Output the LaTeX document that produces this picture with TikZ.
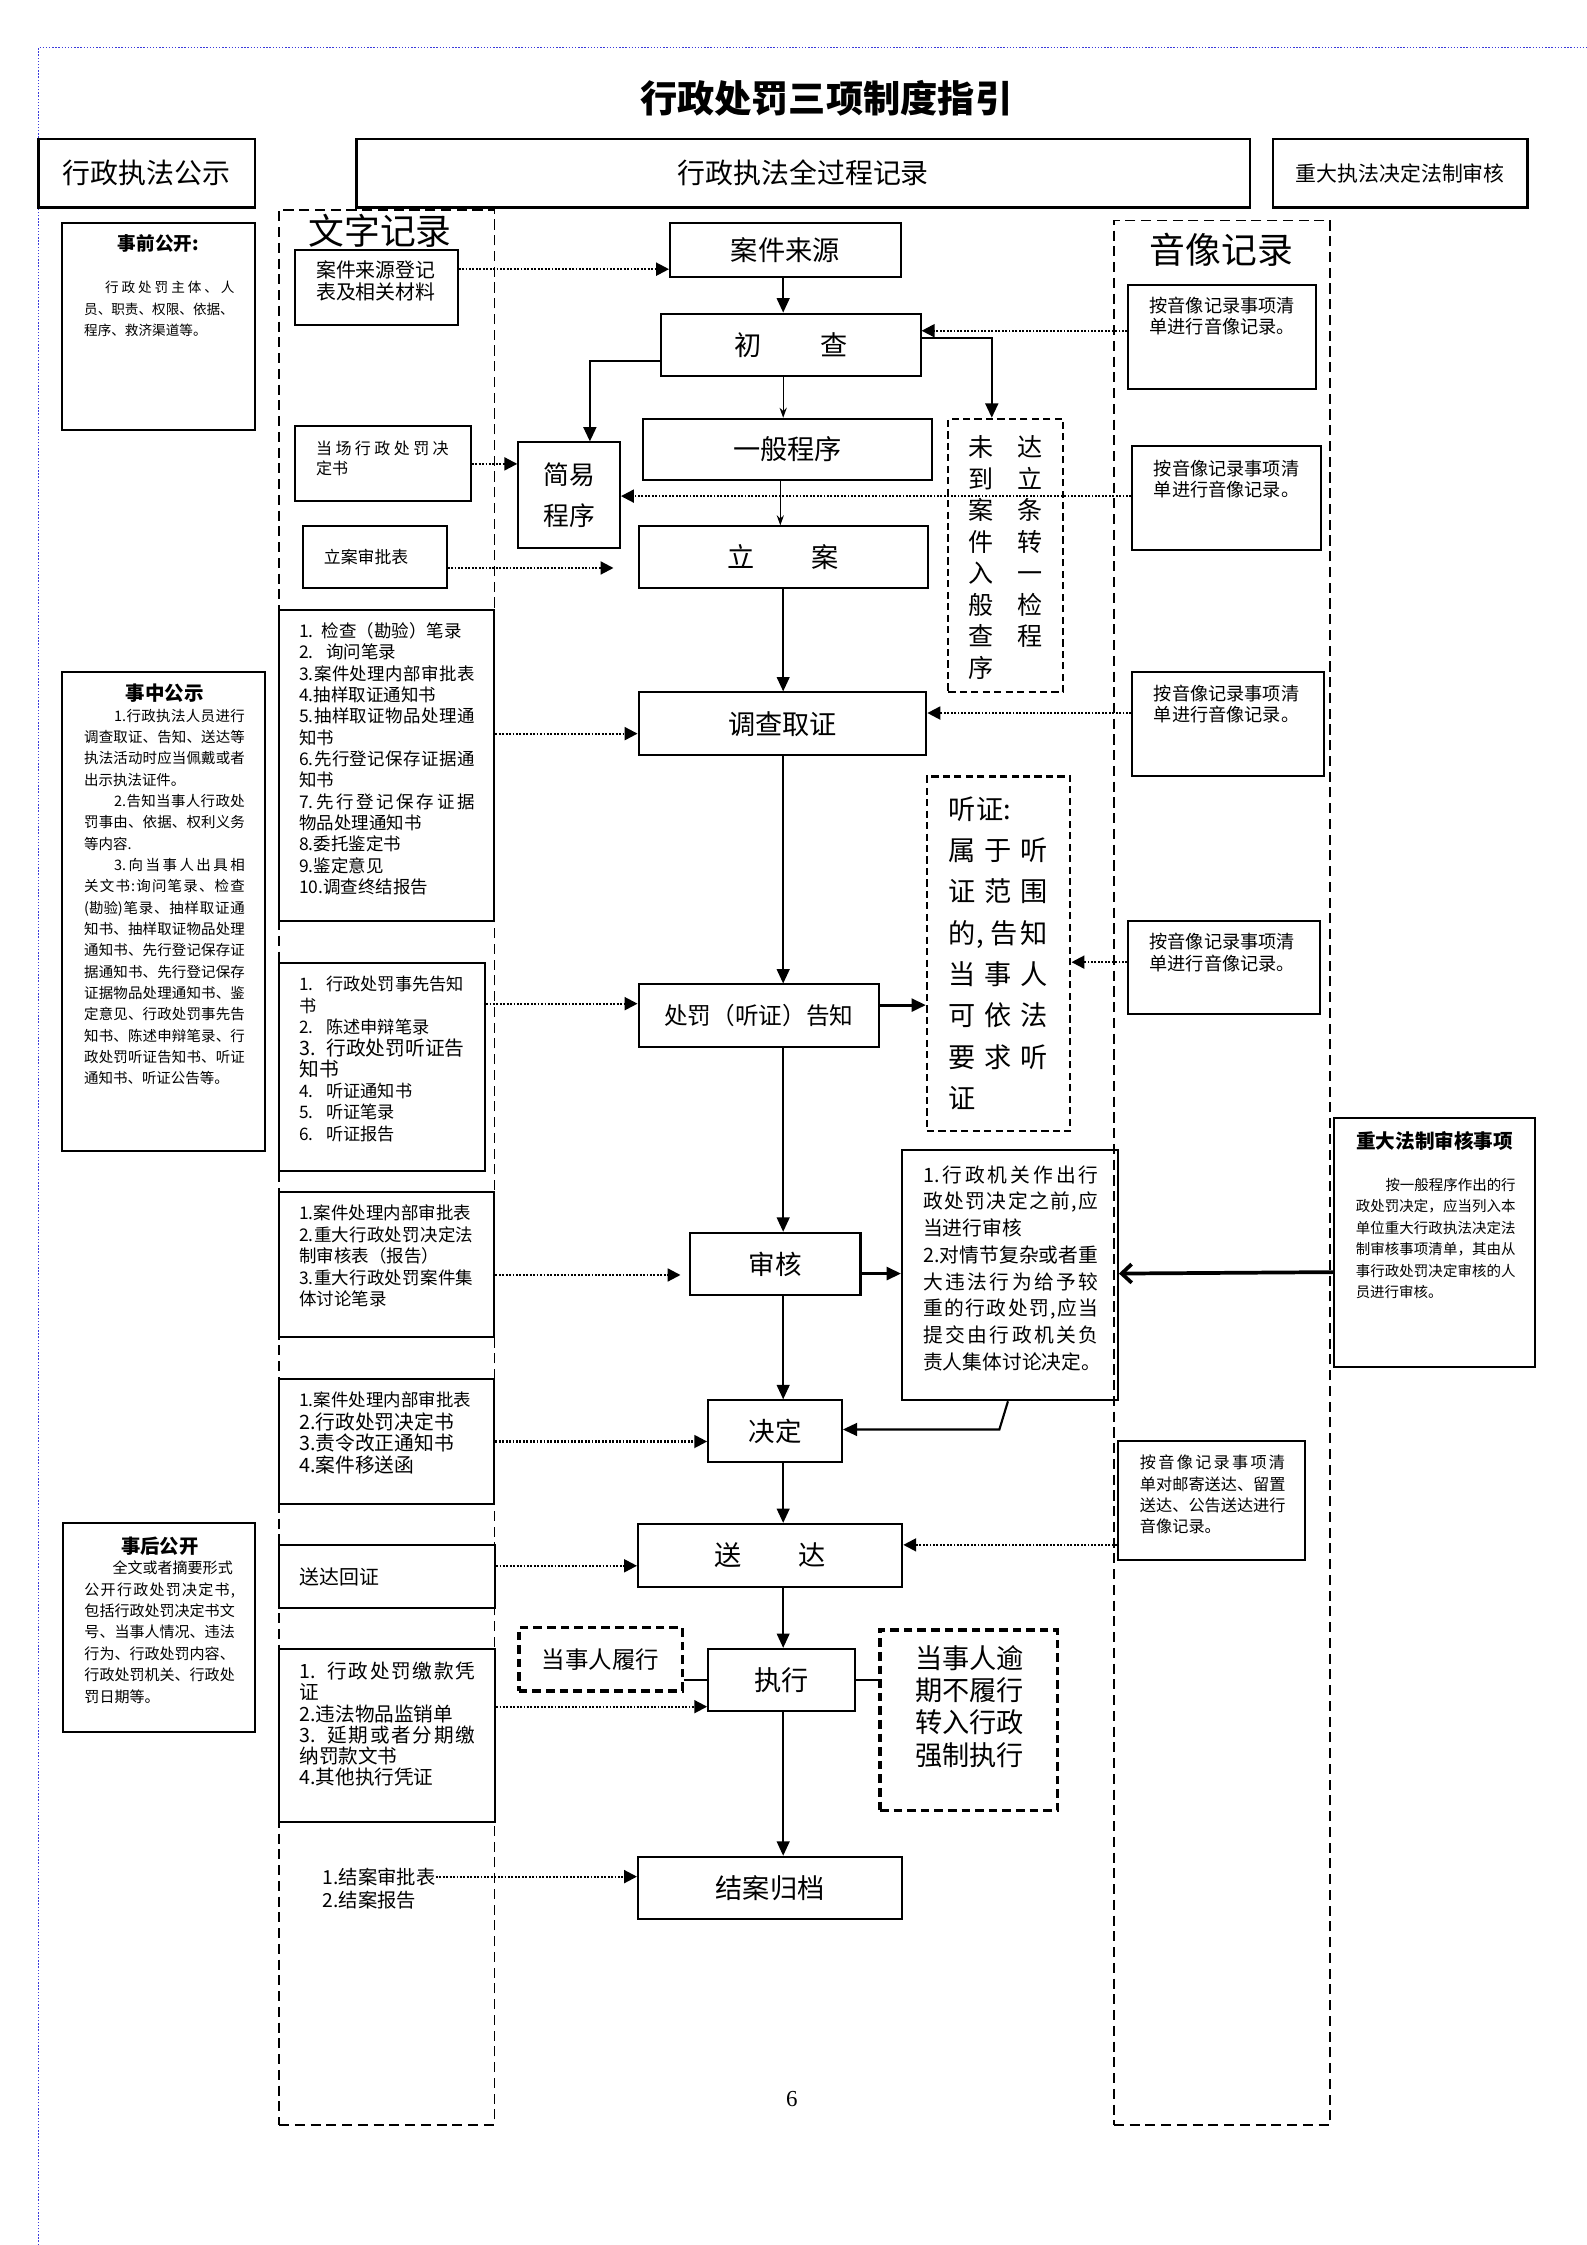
\documentclass[tikz,border=0pt]{standalone}
\usepackage{fontspec}
\setmainfont{Noto Sans CJK SC}
\newfontfamily\lserif{Liberation Serif}
\usetikzlibrary{arrows.meta}
\definecolor{frameblue}{RGB}{60,60,220}
\def\sprA#1{\ifx\relax#1\unskip\else#1\hfill\expandafter\sprA\fi}
\newcommand\spr[2]{\makebox[#1][s]{\sprA#2\relax}}
\newcommand\fsz[2]{\fontsize{#1}{#2}\selectfont}
\tikzset{
 bx/.style={draw, line width=1.4pt, inner sep=0pt, font=\fsz{19}{22}},
 hb/.style={draw, line width=1.7pt, inner sep=0pt},
 tx/.style={inner sep=0pt, anchor=north west, align=left},
 colbox/.style={draw, dash pattern=on 7pt off 4pt, line width=1.1pt, inner sep=0pt},
 dbox/.style={draw, dash pattern=on 5pt off 3pt, line width=1.5pt, inner sep=0pt},
 tdbox/.style={draw, dash pattern=on 6pt off 3.5pt, line width=2.3pt, inner sep=0pt},
 arr/.style={line width=1pt, -{Triangle[length=10pt,width=9pt]}},
 thinarr/.style={line width=0.9pt, -{Stealth[length=7pt,width=5pt]}},
 darr/.style={line width=1.5pt, dash pattern=on 1.3pt off 1.1pt, -{Triangle[length=9pt,width=9pt]}},
}
\begin{document}
\begin{tikzpicture}[x=1pt,y=-1pt]
\useasboundingbox (0,0) rectangle (1108.4,1568);
\fill[white] (0,0) rectangle (1108.4,1568);
% frame
\draw[frameblue, dash pattern=on 1pt off 1.2pt, line width=1pt] (27,1568) -- (27,33) -- (1108.4,33);
% title
\node[font=\bfseries\fsz{26}{30}] (title) at (577,68.6) {行政处罚三项制度指引};
% headers
\node[hb, minimum width=151pt, minimum height=48pt, font=\fsz{19.5}{22}] (hA) at (102.5,121) {行政执法公示};
\node[hb, minimum width=624pt, minimum height=48pt, font=\fsz{19.5}{22}] (hB) at (561,121) {行政执法全过程记录};
\node[hb, minimum width=178pt, minimum height=48pt, font=\fsz{14.6}{17}] (hC) at (978,121) {重大执法决定法制审核};
% columns
\node[colbox, minimum width=150.3pt, minimum height=1337.4pt] (colL) at (270.15,815.3) {};
\node[colbox, minimum width=151pt, minimum height=1330pt] (colR) at (853.5,819) {};
\node[font=\fsz{25}{28}] (colLt) at (265.5,161.5) {文字记录};
\node[font=\fsz{25}{28}] (colRt) at (853,174.5) {音像记录};

% public boxes
\node[bx, minimum width=134.4pt, minimum height=145.1pt] (pubA) at (110.8,228.05) {};
\node[font=\bfseries\fsz{13}{15}] (pubAt) at (110.6,169.8) {事前公开:};
\node[tx, font=\fsz{9.5}{14.9}] (pubAx) at (58.6,196.3) {\hspace*{14.6pt}\spr{90.4pt}{行政处罚主体、人}\\%
员、职责、权限、依据、\\%
程序、救济渠道等。};

\node[bx, minimum width=141.4pt, minimum height=334pt] (pubB) at (114.3,636.6) {};
\node[font=\bfseries\fsz{13.6}{15}] (pubBt) at (115,483.8) {事中公示};
\node[tx, font=\fsz{10.1}{14.9}] (pubBx) at (58.6,495) {\hspace*{20.9pt}\spr{91.3pt}{{1.}行政执法人员进行}\\%
\spr{112.2pt}{调查取证、告知、送达等}\\%
\spr{112.2pt}{执法活动时应当佩戴或者}\\%
出示执法证件。\\%
\hspace*{20.9pt}\spr{91.3pt}{{2.}告知当事人行政处}\\%
\spr{112.2pt}{罚事由、依据、权利义务}\\%
等内容.\\%
\hspace*{20.9pt}\spr{91.3pt}{{3.}向当事人出具相}\\%
\spr{112.2pt}{关文书:询问笔录、检查}\\%
\spr{112.2pt}{{(勘验)}笔录、抽样取证通}\\%
\spr{112.2pt}{知书、抽样取证物品处理}\\%
\spr{112.2pt}{通知书、先行登记保存证}\\%
\spr{112.2pt}{据通知书、先行登记保存}\\%
\spr{112.2pt}{证据物品处理通知书、鉴}\\%
\spr{112.2pt}{定意见、行政处罚事先告}\\%
\spr{112.2pt}{知书、陈述申辩笔录、行}\\%
\spr{112.2pt}{政处罚听证告知书、听证}\\%
通知书、听证公告等。};

\node[bx, minimum width=133.8pt, minimum height=146pt] (pubC) at (110.9,1137) {};
\node[font=\bfseries\fsz{13.5}{15}] (pubCt) at (111.6,1080) {事后公开};
\node[tx, font=\fsz{10.5}{14.95}] (pubCx) at (58.8,1090) {\hspace*{19.6pt}全文或者摘要形式\\%
\spr{105.2pt}{公开行政处罚决定书,}\\%
包括行政处罚决定书文\\%
号、当事人情况、违法\\%
行为、行政处罚内容、\\%
行政处罚机关、行政处\\%
罚日期等。};

% left document boxes
\node[bx, minimum width=113.7pt, minimum height=52.4pt] (srcdoc) at (262.85,200.7) {};
\node[tx, font=\fsz{13.9}{15.1}] (srcdocx) at (220.6,182.2) {案件来源登记\\%
表及相关材料};
\node[bx, minimum width=122.8pt, minimum height=52.4pt] (dangchang) at (267.4,324) {};
\node[tx, font=\fsz{11.2}{14}] (dangchangx) at (220.6,308) {\spr{92.6pt}{当场行政处罚决}\\%
定书};
\node[bx, minimum width=100.7pt, minimum height=43.4pt] (lianshenpi) at (261.65,389.3) {};
\node[inner sep=0pt, anchor=west, font=\fsz{11.8}{14}] (lianshenpix) at (226,389) {立案审批表};

\node[bx, minimum width=150.5pt, minimum height=217.2pt] (list1) at (270.05,534.6) {};
\node[tx, font=\fsz{12.2}{14.9}] (list1x) at (208.8,434.5) {1.\hspace{5.6pt}检查（勘验）笔录\\%
2.\hspace{8.7pt}询问笔录\\%
\spr{122.5pt}{{3.}案件处理内部审批表}\\%
4.抽样取证通知书\\%
\spr{122.5pt}{{5.}抽样取证物品处理通}\\%
知书\\%
\spr{122.5pt}{{6.}先行登记保存证据通}\\%
知书\\%
\spr{122.5pt}{{7.}先行登记保存证据}\\%
物品处理通知书\\%
8.委托鉴定书\\%
9.鉴定意见\\%
10.调查终结报告};

\node[bx, minimum width=144pt, minimum height=145.4pt] (list2) at (266.8,745.3) {};
\node[tx, font=\fsz{12}{15}] (list2a) at (208.8,681.6) {1.\hspace{9pt}行政处罚事先告知\\%
书\\%
2.\hspace{9pt}陈述申辩笔录};
\node[tx, font=\fsz{13.8}{14.6}] (list2b) at (208.8,725.2) {3.\hspace{7.5pt}行政处罚听证告\\%
知书};
\node[tx, font=\fsz{12}{15}] (list2c) at (208.8,756.2) {4.\hspace{9pt}听证通知书\\%
5.\hspace{9pt}听证笔录\\%
6.\hspace{9pt}听证报告};

\node[bx, minimum width=150.5pt, minimum height=101.2pt] (list3) at (270.05,883.2) {};
\node[tx, font=\fsz{12.2}{15}] (list3x) at (208.8,841.5) {1.案件处理内部审批表\\%
\spr{121.6pt}{{2.}重大行政处罚决定法}\\%
制审核表（报告）\\%
\spr{121.6pt}{{3.}重大行政处罚案件集}\\%
体讨论笔录};

\node[bx, minimum width=150.5pt, minimum height=87.6pt] (list4) at (270.05,1006.8) {};
\node[inner sep=0pt, anchor=west, font=\fsz{12.2}{15}] (list4a) at (208.8,977.8) {1.案件处理内部审批表};
\node[tx, font=\fsz{13.8}{15.1}] (list4b) at (208.8,986.3) {2.行政处罚决定书\\%
3.责令改正通知书\\%
4.案件移送函};

\node[bx, minimum width=150.9pt, minimum height=43.9pt] (songdahui) at (270.35,1101.25) {};
\node[inner sep=0pt, anchor=west, font=\fsz{13.9}{15}] (songdahuix) at (209,1101.6) {送达回证};

\node[bx, minimum width=150.9pt, minimum height=120.6pt] (zhixingdoc) at (270.35,1212.1) {};
\node[tx, font=\fsz{13.7}{14.75}] (zhixingdocx) at (209,1160.8) {1.\hspace{8pt}\spr{103.2pt}{行政处罚缴款凭}\\%
证\\%
2.违法物品监销单\\%
3.\hspace{8pt}\spr{103.2pt}{延期或者分期缴}\\%
纳罚款文书\\%
4.其他执行凭证};

\node[tx, font=\fsz{13.5}{15.4}] (jieandoc) at (225.3,1304.9) {1.结案审批表\\%
2.结案报告};

% centre flow boxes
\node[bx, minimum width=161pt, minimum height=38pt] (src) at (548.5,174.5) {案件来源};
\node[bx, minimum width=181pt, minimum height=43.5pt] (chu) at (552.5,240.75) {初\hspace{41pt}查};
\node[bx, minimum width=202pt, minimum height=42.5pt] (yiban) at (550,313.75) {一般程序};
\node[bx, minimum width=202pt, minimum height=43.4pt] (lian) at (547,389.3) {立\hspace{39.6pt}案};
\node[bx, minimum width=71pt, minimum height=73.7pt, align=center, font=\fsz{18}{28}] (jianyi) at (397.5,345.85) {简易\\程序};
\node[bx, minimum width=201pt, minimum height=44pt] (diaocha) at (546.5,505.55) {调查取证};
\node[bx, minimum width=168pt, minimum height=43.4pt, font=\fsz{16.5}{20}] (gaozhi) at (530,709.3) {处罚（听证）告知};
\node[bx, minimum width=119pt, minimum height=43.7pt, font=\fsz{18.5}{22}] (shenhe) at (541.5,882.85) {审核};
\node[bx, minimum width=93.4pt, minimum height=43pt, font=\fsz{18.5}{22}] (jueding) at (541.3,999.5) {决定};
\node[bx, minimum width=184.6pt, minimum height=44.3pt] (songda) at (537.9,1086.5) {送\hspace{40pt}达};
\node[bx, minimum width=102.8pt, minimum height=43.4pt] (zhixing) at (546,1173.3) {执行};
\node[bx, minimum width=184.6pt, minimum height=43.6pt] (jiean) at (537.9,1318.6) {结案归档};

% dashed note boxes
\node[dbox, minimum width=80.1pt, minimum height=191pt] (weidao) at (702.45,388) {};
\node[tx, font=\fsz{17.5}{22}] (weidaox) at (676.25,304.1) {\spr{51.5pt}{未达}\\%
\spr{51.5pt}{到立}\\%
\spr{51.5pt}{案条}\\%
\spr{51.5pt}{件转}\\%
\spr{51.5pt}{入一}\\%
\spr{51.5pt}{般检}\\%
\spr{51.5pt}{查程}\\%
序};
\node[dbox, minimum width=100.2pt, minimum height=247.7pt] (tingzheng) at (697.5,666.15) {};
\node[tx, font=\fsz{19}{28.9}] (tingzhengx) at (662.5,556) {听证:\\%
\spr{69pt}{属于听}\\%
\spr{69pt}{证范围}\\%
\makebox[69pt][s]{的,\hfill{}告\hspace{2pt}知}\\%
\spr{69pt}{当事人}\\%
\spr{69pt}{可依法}\\%
\spr{69pt}{要求听}\\%
证};
\node[tdbox, minimum width=114.1pt, minimum height=44.4pt, font=\fsz{16.4}{20}] (lvxing) at (419.45,1158.8) {当事人履行};
\node[tdbox, minimum width=123.9pt, minimum height=126.3pt] (yuqi) at (676.55,1201.55) {};
\node[tx, font=\fsz{19}{22.5}] (yuqix) at (639,1149) {当事人逾\\%
期不履行\\%
转入行政\\%
强制执行};

\node[bx, minimum width=150.8pt, minimum height=175pt] (xingzheng) at (705.4,890.5) {};
\node[tx, font=\fsz{13.8}{18.7}] (xingzhengx) at (644.6,813.8) {\spr{122.4pt}{{1.}行政机关作出行}\\%
\spr{122.4pt}{政处罚决定之前{,}应}\\%
当进行审核\\%
\spr{122.4pt}{{2.}对情节复杂或者重}\\%
\spr{122.4pt}{大违法行为给予较}\\%
\spr{122.4pt}{重的行政处罚{,}应当}\\%
\spr{122.4pt}{提交由行政机关负}\\%
责人集体讨论决定。};

\node[bx, minimum width=140.3pt, minimum height=173.8pt] (zhongda) at (1001.85,867.9) {};
\node[font=\bfseries\fsz{13.7}{15}] (zhongdat) at (1002,797) {重大法制审核事项};
\node[tx, font=\fsz{10.1}{15}] (zhongdax) at (946.7,822.5) {\hspace*{20.8pt}\spr{90.9pt}{按一般程序作出的行}\\%
\spr{111.7pt}{政处罚决定，应当列入本}\\%
\spr{111.7pt}{单位重大行政执法决定法}\\%
\spr{111.7pt}{制审核事项清单，其由从}\\%
\spr{111.7pt}{事行政处罚决定审核的人}\\%
员进行审核。};

% audio boxes
\node[bx, minimum width=131pt, minimum height=72.6pt] (yin1) at (853.5,235.3) {};
\node[tx, font=\fsz{12.7}{15}] (yin1x) at (802.7,207.3) {按音像记录事项清\\%
单进行音像记录。};
\node[bx, minimum width=131.5pt, minimum height=72.6pt] (yin2) at (856.55,348.1) {};
\node[tx, font=\fsz{12.7}{15}] (yin2x) at (805.7,320.8) {按音像记录事项清\\%
单进行音像记录。};
\node[bx, minimum width=134.2pt, minimum height=72.7pt] (yin3) at (857.9,505.95) {};
\node[tx, font=\fsz{12.7}{15}] (yin3x) at (805.7,478.1) {按音像记录事项清\\%
单进行音像记录。};
\node[bx, minimum width=134pt, minimum height=64.6pt] (yin4) at (855,675.9) {};
\node[tx, font=\fsz{12.7}{15}] (yin4x) at (802.7,651.6) {按音像记录事项清\\%
单进行音像记录。};
\node[bx, minimum width=130.9pt, minimum height=83.3pt] (yin5) at (846.25,1048.05) {};
\node[tx, font=\fsz{11.3}{15}] (yin5x) at (796,1015.9) {\spr{101.4pt}{按音像记录事项清}\\%
单对邮寄送达、留置\\%
送达、公告送达进行\\%
音像记录。};

% main vertical arrows
\draw[arr] (src.south -| 547,0) -- (chu.north -| 547,0);
\draw[thinarr] (chu.south -| 547,0) -- (yiban.north -| 547,0);
\draw[thinarr] (yiban.south -| 545,0) -- (lian.north -| 545,0);
\draw[arr] (lian.south -| 547,0) -- (diaocha.north -| 547,0);
\draw[arr] (diaocha.south -| 547,0) -- (gaozhi.north -| 547,0);
\draw[arr] (gaozhi.south -| 547,0) -- (shenhe.north -| 547,0);
\draw[arr] (shenhe.south -| 547,0) -- (jueding.north -| 547,0);
\draw[arr] (jueding.south -| 547,0) -- (songda.north -| 547,0);
\draw[arr] (songda.south -| 547,0) -- (zhixing.north -| 547,0);
\draw[arr] (zhixing.south -| 547,0) -- (jiean.north -| 547,0);
% branch arrows
\draw[arr, line width=1.5pt] (chu.west |- 0,252) -| (jianyi.north -| 412,0);
\draw[arr, line width=1.5pt] (chu.east |- 0,236) -| (weidao.north -| 692.7,0);
\draw[arr, line width=2pt] (gaozhi.east |- 0,702) -- (tingzheng.west |- 0,702);
\draw[arr, line width=2pt] (shenhe.east |- 0,889.5) -- (xingzheng.west |- 0,889.5);
\draw[line width=2.6pt, -{Straight Barb[length=7pt,width=13pt]}] (zhongda.west |- 0,888.5) -- (xingzheng.east |- 0,889.5);
\draw[arr, line width=1.5pt] (xingzheng.south -| 704,0) -- (698,998.4) -- (jueding.east |- 0,998.4);
\draw[line width=1.5pt] (lvxing.east |- 0,1173.5) -- (zhixing.west |- 0,1173.5);
\draw[line width=1.5pt] (zhixing.east |- 0,1173.5) -- (yuqi.west |- 0,1173.5);

% dotted arrows from documents
\coordinate (lianend) at (428.5,396.7);
\coordinate (shenend) at (475.3,890.5);
\draw[darr] (srcdoc.east |- 0,188) -- (src.west |- 0,188);
\draw[darr] (dangchang.east |- 0,324) -- (jianyi.west |- 0,324);
\draw[darr] (lianshenpi.east |- lianend) -- (lianend);
\draw[darr] (list1.east |- 0,512.4) -- (diaocha.west |- 0,512.4);
\draw[darr] (list2.east |- 0,701) -- (gaozhi.west |- 0,701);
\draw[darr] (list3.east |- shenend) -- (shenend);
\draw[darr] (list4.east |- 0,1006.8) -- (jueding.west |- 0,1006.8);
\draw[darr] (songdahui.east |- 0,1093.6) -- (songda.west |- 0,1093.6);
\draw[darr] (zhixingdoc.east |- 0,1192) -- (zhixing.west |- 0,1192);
\draw[darr] (jieandoc.east |- 0,1310.7) -- (jiean.west |- 0,1310.7);
% dotted arrows from audio
\draw[darr] (yin1.west |- 0,231) -- (chu.east |- 0,231);
\draw[darr] (yin2.west |- 0,346.5) -- (jianyi.east |- 0,346.5);
\draw[darr] (yin3.west |- 0,498) -- (diaocha.east |- 0,498);
\draw[darr] (yin4.west |- 0,672) -- (tingzheng.east |- 0,672);
\draw[darr] (yin5.west |- 0,1079) -- (songda.east |- 0,1079);

\node[font=\lserif\fsz{16}{18}] (pg) at (553,1466) {6};
\end{tikzpicture}
\end{document}
